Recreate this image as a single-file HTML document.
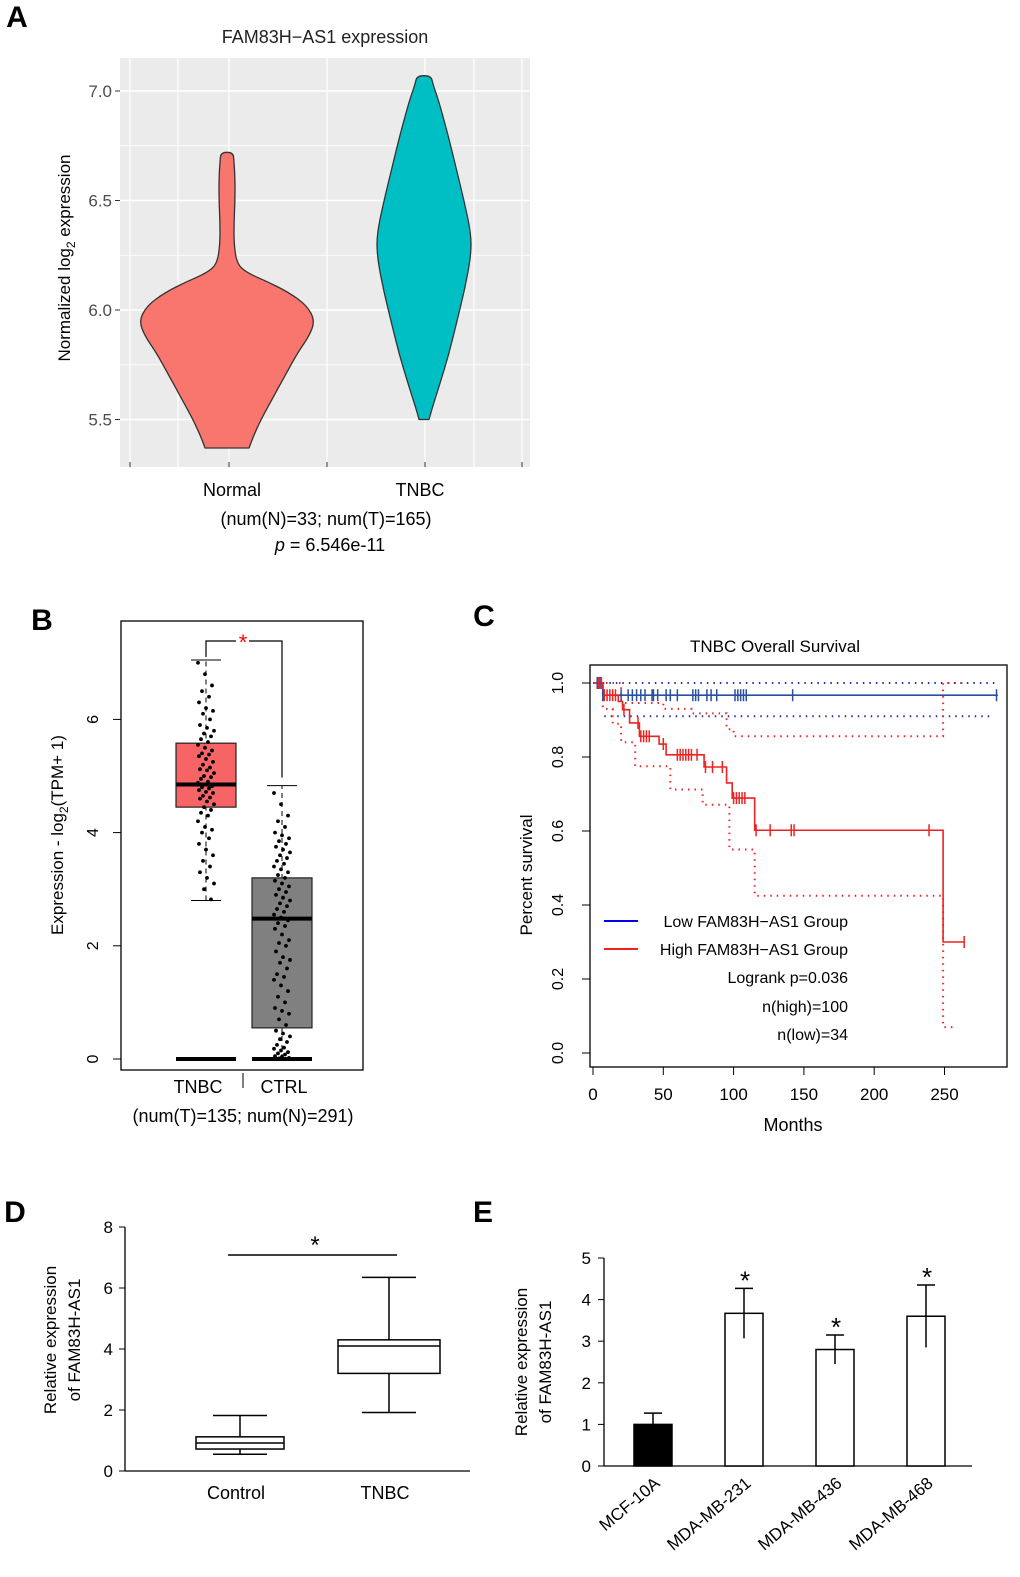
<!DOCTYPE html>
<html><head><meta charset="utf-8"><style>
body{margin:0;background:#fff}
svg{display:block;font-family:"Liberation Sans",Arial,sans-serif}
</style></head><body>
<svg id="fig" width="1020" height="1577" viewBox="0 0 1020 1577">
<g id="pA"></g>
<g id="pB"></g>
<g id="pC"></g>
<g id="pD"></g>
<g id="pE"></g>
</svg>
<script>
// ---- Panel A data ----
const violinLevels = ["Normal","TNBC"];
const normalVals = [5.37,5.42,5.5,5.6,5.7,5.8,5.88,5.95,6.02,6.08,6.13,6.17,6.21,6.3,6.4,6.5,6.6,6.68,6.72];
const normalWidth = [22,26,34,46,58,70,82,88,80,62,40,20,10,7,7,8,8,7,6];
const tnbcVals = [5.5,5.55,5.65,5.8,5.95,6.1,6.25,6.35,6.5,6.65,6.8,6.95,7.03,7.07];
const tnbcWidth = [5,8,15,25,33,41,47,47,40,32,24,15,9,7];
const aTicks = [5.5,6.0,6.5,7.0];
// ---- Panel B data ----
const bCats = ["TNBC","CTRL"];
const bStats = [[2.8,4.45,4.85,5.58,7.05],[0,0.55,2.48,3.2,4.83]];
const bTnbcPts = [7.0,6.8,6.6,6.5,6.4,6.3,6.2,6.15,6.1,6.0,5.9,5.85,5.8,5.75,5.7,5.65,5.6,5.55,5.5,5.45,5.4,5.38,5.35,5.3,5.25,5.2,5.15,5.12,5.1,5.05,5.0,4.98,4.95,4.9,4.88,4.85,4.82,4.8,4.78,4.75,4.72,4.7,4.65,4.62,4.6,4.55,4.5,4.45,4.4,4.35,4.3,4.2,4.1,4.05,4.0,3.9,3.8,3.7,3.6,3.5,3.4,3.3,3.2,3.1,3.0,2.82];
const bCtrlPts = [4.7,4.5,4.3,4.2,4.1,4.0,3.95,3.9,3.85,3.8,3.75,3.7,3.65,3.6,3.55,3.5,3.45,3.4,3.35,3.3,3.25,3.2,3.15,3.1,3.05,3.0,2.95,2.9,2.85,2.8,2.75,2.7,2.65,2.6,2.55,2.5,2.45,2.4,2.35,2.3,2.2,2.1,2.05,2.0,1.9,1.8,1.75,1.7,1.6,1.5,1.45,1.4,1.3,1.2,1.1,1.0,0.9,0.85,0.8,0.7,0.6,0.5,0.45,0.4,0.35,0.3,0.25,0.2,0.18,0.15,0.12,0.1,0.08,0.05,0.04,0.02,0.01];
const bTicks = [0,2,4,6];
// ---- Panel C data ----
const highSteps = [[0,1],[7,0.967],[18,0.95],[21,0.928],[26,0.892],[33,0.856],[47,0.835],[52,0.806],[79,0.773],[95,0.73],[99,0.689],[115,0.602],[249,0.30]];
const highEnd = 264;
const highUpper = [[0,1],[20,0.946],[50,0.93],[70,0.918],[95,0.875],[100,0.856],[249,1.0]];
const highUpperEnd = 264;
const highLower = [[0,1],[7,0.93],[14,0.89],[20,0.84],[30,0.775],[55,0.712],[78,0.671],[97,0.55],[115,0.425],[249,0.07]];
const highLowerEnd = 257;
const highCens = [4,6,8,10,12,14,16,22,32,34,36,38,40,50,60,62,64,66,68,70,74,80,85,92,100,102,104,106,108,116,126,141,143,239,264];
const lowSteps = [[0,1],[7,0.967]];
const lowEnd = 288;
const lowUpper = [[7,1.0]]; const lowUpperEnd = 288;
const lowLower = [[8,0.91]]; const lowLowerEnd = 285;
const lowCens = [3,5,7,20,25,28,31,34,37,42,43,46,52,55,60,71,73,75,81,84,88,101,103,105,107,109,142,287];
const cXTicks = [0,50,100,150,200,250];
const cYTicks = [0,0.2,0.4,0.6,0.8,1.0];
// ---- Panel D data ----
const dCats = ["Control","TNBC"];
const dStats = [[0.55,0.72,0.92,1.12,1.82],[1.92,3.2,4.1,4.3,6.35]];
const dTicks = [0,2,4,6,8];
// ---- Panel E data ----
const eCats = ["MCF-10A","MDA-MB-231","MDA-MB-436","MDA-MB-468"];
const eVals = [1.0,3.67,2.8,3.6];
const eErr = [0.27,0.6,0.35,0.75];
const eSig = [false,true,true,true];
const eTicks = [0,1,2,3,4,5];

const NS="http://www.w3.org/2000/svg";
function mk(parent,tag,attrs,name,text){
  const e=document.createElementNS(NS,tag);
  for(const k in attrs) e.setAttribute(k,attrs[k]);
  
  
  if(text!==undefined) e.textContent=text;
  parent.appendChild(e); return e;
}
function txt(p,x,y,s,size,name,extra){
  const a=Object.assign({x:x,y:y,'font-size':size,'text-anchor':'middle',fill:'#000'},extra||{});
  return mk(p,'text',a,name,s);
}
function smooth(pts){
  let d='M'+pts[0][0].toFixed(1)+','+pts[0][1].toFixed(1);
  for(let i=1;i<pts.length-1;i++){
    const mx=(pts[i][0]+pts[i+1][0])/2, my=(pts[i][1]+pts[i+1][1])/2;
    d+=` Q${pts[i][0].toFixed(1)},${pts[i][1].toFixed(1)} ${mx.toFixed(1)},${my.toFixed(1)}`;
  }
  const l=pts[pts.length-1]; d+=` L${l[0].toFixed(1)},${l[1].toFixed(1)}`;
  return d;
}

// ===== Panel A =====
(function(){
  const g=document.getElementById('pA');
  const y=v=>310-(v-6.0)*219;
  txt(g,17,27,'A',30,'panel-label-a',{'font-weight':'bold'});
  txt(g,325,43,'FAM83H\u2212AS1 expression',18,'chart-a-title',{fill:'#222'});
  mk(g,'rect',{x:120,y:58,width:410,height:409,fill:'#EBEBEB'},'plot-background');
  [5.25,5.75,6.25,6.75].forEach(v=>mk(g,'line',{x1:120,x2:530,y1:y(v),y2:y(v),stroke:'#fff','stroke-width':0.8},'minor-grid'));
  aTicks.forEach(v=>{
    mk(g,'line',{x1:120,x2:530,y1:y(v),y2:y(v),stroke:'#fff','stroke-width':1.5},'major-grid');
    mk(g,'line',{x1:115,x2:120,y1:y(v),y2:y(v),stroke:'#333'},'y-tick');
    txt(g,112,y(v)+6,v.toFixed(1),17,'y-tick-label',{'text-anchor':'end',fill:'#4d4d4d'});
  });
  [130,178,229,327,425,474,522].forEach(x=>mk(g,'line',{x1:x,x2:x,y1:58,y2:467,stroke:'#fff','stroke-width':1.2},'x-grid'));
  [130,229,327,425,522].forEach(x=>mk(g,'line',{x1:x,x2:x,y1:462,y2:467,stroke:'#333'},'x-tick'));
  function violin(vals,w,cx,fill,name){
    let r=vals.map((v,i)=>[cx+w[i],y(v)]);
    let l=vals.map((v,i)=>[cx-w[i],y(v)]).reverse();
    let pts=r.concat(l);
    mk(g,'path',{d:smooth(pts)+'Z',fill:fill,stroke:'#333','stroke-width':1.3,'stroke-linejoin':'round'},name);
  }
  violin(normalVals,normalWidth,227,'#F8766D','violin-normal');
  violin(tnbcVals,tnbcWidth,424,'#00BFC4','violin-tnbc');
  txt(g,232,496,violinLevels[0],18,'x-label-normal');
  txt(g,420,496,violinLevels[1],18,'x-label-tnbc');
  txt(g,326,525,'(num(N)=33; num(T)=165)',18,'sample-sizes');
  const t=txt(g,330,551,'',18,'p-value');
  const ti=document.createElementNS(NS,'tspan'); ti.setAttribute('font-style','italic'); ti.textContent='p';
  t.appendChild(ti); t.appendChild(document.createTextNode(' = 6.546e-11'));
  const yl=txt(g,70,258,'',17,'y-axis-title',{transform:'rotate(-90 70 258)'});
  yl.innerHTML='Normalized log<tspan font-size="12" dy="5">2</tspan><tspan dy="-5"> expression</tspan>';
})();

// ===== Panel B =====
(function(){
  const g=document.getElementById('pB');
  const y=v=>1059-v*56.6;
  txt(g,42,630,'B',30,'panel-label-b',{'font-weight':'bold'});
  mk(g,'rect',{x:121,y:621,width:242,height:449,fill:'none',stroke:'#000','stroke-width':1.3},'plot-frame');
  bTicks.forEach(v=>{
    mk(g,'line',{x1:113,x2:121,y1:y(v),y2:y(v),stroke:'#000'},'y-tick');
    txt(g,98,y(v),String(v),16,'y-tick-label',{transform:`rotate(-90 98 ${y(v)})`});
  });
  const cxs=[206,282], fills=['#F66466','#808080'];
  bStats.forEach((s,i)=>{
    const cx=cxs[i];
    mk(g,'line',{x1:cx,x2:cx,y1:y(s[0]),y2:y(s[4]),stroke:'#000','stroke-dasharray':'5,4'},'whisker');
    mk(g,'line',{x1:cx-15,x2:cx+15,y1:y(s[4]),y2:y(s[4]),stroke:'#000'},'whisker-cap-top');
    if(s[0]>0) mk(g,'line',{x1:cx-15,x2:cx+15,y1:y(s[0]),y2:y(s[0]),stroke:'#000'},'whisker-cap-bottom');
    mk(g,'rect',{x:cx-30,y:y(s[3]),width:60,height:y(s[1])-y(s[3]),fill:fills[i],stroke:'#222','stroke-width':1.2},'box-'+bCats[i].toLowerCase());
    mk(g,'line',{x1:cx-30,x2:cx+30,y1:y(s[2]),y2:y(s[2]),stroke:'#000','stroke-width':4},'median');
    mk(g,'line',{x1:cx-30,x2:cx+30,y1:y(0),y2:y(0),stroke:'#000','stroke-width':4},'zero-line');
  });
  [bTnbcPts,bCtrlPts].forEach((arr,i)=>arr.forEach((v,j)=>{
    const dx=((j*7)%17)-8;
    mk(g,'circle',{cx:cxs[i]+dx,cy:y(v),r:1.9,fill:'#000'},'point');
  }));
  mk(g,'path',{d:`M206,657 V641 H236 M249,641 H282 V${y(4.83)-8}`,fill:'none',stroke:'#000','stroke-width':1.2},'significance-bracket');
  txt(g,243,650,'*',22,'significance-star',{fill:'#f00'});
  txt(g,198,1093,bCats[0],18,'x-label-tnbc');
  txt(g,284,1093,bCats[1],18,'x-label-ctrl');
  mk(g,'line',{x1:243,x2:243,y1:1073,y2:1088,stroke:'#000'},'x-separator');
  txt(g,243,1122,'(num(T)=135; num(N)=291)',18,'sample-sizes');
  const yl=txt(g,63,835,'',17,'y-axis-title',{transform:'rotate(-90 63 835)'});
  yl.innerHTML='Expression - log<tspan font-size="12" dy="5">2</tspan><tspan dy="-5">(TPM+ 1)</tspan>';
})();

// ===== Panel C =====
(function(){
  const g=document.getElementById('pC');
  const x=m=>593+m*1.406, y=v=>1053-v*370;
  txt(g,484,626,'C',30,'panel-label-c',{'font-weight':'bold'});
  txt(g,775,652,'TNBC Overall Survival',17,'chart-c-title');
  mk(g,'rect',{x:590,y:665,width:417,height:402,fill:'none',stroke:'#000','stroke-width':1.3},'plot-frame');
  cYTicks.forEach(v=>{
    mk(g,'line',{x1:582,x2:590,y1:y(v),y2:y(v),stroke:'#000'},'y-tick');
    txt(g,563,y(v),v.toFixed(1),16,'y-tick-label',{transform:`rotate(-90 563 ${y(v)})`});
  });
  cXTicks.forEach(m=>{
    mk(g,'line',{x1:x(m),x2:x(m),y1:1067,y2:1075,stroke:'#000'},'x-tick');
    txt(g,x(m),1100,String(m),17,'x-tick-label');
  });
  txt(g,793,1131,'Months',18,'x-axis-title');
  txt(g,532,875,'Percent survival',17,'y-axis-title',{transform:'rotate(-90 532 875)'});
  function step(st,end,color,dash,name,w){
    let d=`M${x(st[0][0])},${y(st[0][1])}`;
    for(let i=1;i<st.length;i++) d+=` H${x(st[i][0])} V${y(st[i][1])}`;
    d+=` H${x(end)}`;
    const a={d:d,fill:'none',stroke:color,'stroke-width':w||1.6};
    if(dash) a['stroke-dasharray']='1.5,5';
    mk(g,'path',a,name);
  }
  function valAt(st,m){let v=st[0][1];st.forEach(s=>{if(s[0]<=m)v=s[1];});return v;}
  step(lowUpper,lowUpperEnd,'#2233aa',true,'low-ci-upper',2);
  step(lowLower,lowLowerEnd,'#2233aa',true,'low-ci-lower',2);
  step(highUpper,highUpperEnd,'#ee2222',true,'high-ci-upper',2);
  step(highLower,highLowerEnd,'#ee2222',true,'high-ci-lower',2);
  step(lowSteps,lowEnd,'#2a4ea0',false,'low-group-curve');
  step(highSteps,highEnd,'#ee2222',false,'high-group-curve');
  lowCens.forEach(m=>{const yy=y(valAt(lowSteps,m));mk(g,'line',{x1:x(m),x2:x(m),y1:yy-6,y2:yy+6,stroke:'#2a4ea0','stroke-width':1.5},'censor-low');});
  highCens.forEach(m=>{const yy=y(valAt(highSteps,m));mk(g,'line',{x1:x(m),x2:x(m),y1:yy-6,y2:yy+6,stroke:'#ee2222','stroke-width':1.5},'censor-high');});
  mk(g,'line',{x1:604,x2:638,y1:921,y2:921,stroke:'#0000ee','stroke-width':2},'legend-swatch-low');
  mk(g,'line',{x1:604,x2:638,y1:949,y2:949,stroke:'#ee2222','stroke-width':2},'legend-swatch-high');
  const L=[['Low FAM83H\u2212AS1 Group',927,'legend-entry-low'],['High FAM83H\u2212AS1 Group',955,'legend-entry-high'],['Logrank p=0.036',983,'logrank-p'],['n(high)=100',1012,'n-high'],['n(low)=34',1040,'n-low']];
  L.forEach(l=>txt(g,848,l[1],l[0],16,l[2],{'text-anchor':'end'}));
})();

// ===== Panel D =====
(function(){
  const g=document.getElementById('pD');
  const y=v=>1471-v*30.5;
  txt(g,15,1222,'D',30,'panel-label-d',{'font-weight':'bold'});
  mk(g,'line',{x1:125,x2:125,y1:y(8),y2:y(0),stroke:'#000','stroke-width':1.3},'y-axis');
  mk(g,'line',{x1:125,x2:470,y1:y(0),y2:y(0),stroke:'#000','stroke-width':1.3},'x-axis');
  dTicks.forEach(v=>{
    mk(g,'line',{x1:119,x2:125,y1:y(v),y2:y(v),stroke:'#000'},'y-tick');
    txt(g,113,y(v)+6,String(v),17,'y-tick-label',{'text-anchor':'end'});
  });
  const cxs=[240,389], hw=[44,51];
  dStats.forEach((s,i)=>{
    const cx=cxs[i];
    mk(g,'line',{x1:cx,x2:cx,y1:y(s[0]),y2:y(s[4]),stroke:'#000','stroke-width':1.5},'whisker');
    mk(g,'line',{x1:cx-27,x2:cx+27,y1:y(s[0]),y2:y(s[0]),stroke:'#000','stroke-width':1.5},'whisker-cap');
    mk(g,'line',{x1:cx-27,x2:cx+27,y1:y(s[4]),y2:y(s[4]),stroke:'#000','stroke-width':1.5},'whisker-cap');
    mk(g,'rect',{x:cx-hw[i],y:y(s[3]),width:hw[i]*2,height:y(s[1])-y(s[3]),fill:'#fff',stroke:'#000','stroke-width':1.5},'box-'+dCats[i].toLowerCase());
    mk(g,'line',{x1:cx-hw[i],x2:cx+hw[i],y1:y(s[2]),y2:y(s[2]),stroke:'#000','stroke-width':1.5},'median');
    txt(g,cx-4,1499,dCats[i],18,'x-label-'+dCats[i].toLowerCase());
  });
  mk(g,'line',{x1:228,x2:397,y1:1255,y2:1255,stroke:'#000','stroke-width':1.5},'significance-line');
  txt(g,315,1253,'*',24,'significance-star');
  txt(g,56,1340,'Relative expression',17,'y-axis-title-1',{transform:'rotate(-90 56 1340)'});
  txt(g,80,1340,'of  FAM83H-AS1',17,'y-axis-title-2',{transform:'rotate(-90 80 1340)'});
})();

// ===== Panel E =====
(function(){
  const g=document.getElementById('pE');
  const y=v=>1466-v*41.6;
  txt(g,483,1222,'E',30,'panel-label-e',{'font-weight':'bold'});
  mk(g,'line',{x1:604,x2:604,y1:y(5),y2:y(0),stroke:'#000','stroke-width':1.3},'y-axis');
  mk(g,'line',{x1:604,x2:972,y1:y(0),y2:y(0),stroke:'#000','stroke-width':1.3},'x-axis');
  eTicks.forEach(v=>{
    mk(g,'line',{x1:598,x2:604,y1:y(v),y2:y(v),stroke:'#000'},'y-tick');
    txt(g,591,y(v)+6,String(v),17,'y-tick-label',{'text-anchor':'end'});
  });
  const step=91, x0=653, bw=38;
  eCats.forEach((c,i)=>{
    const cx=x0+i*step;
    mk(g,'rect',{x:cx-bw/2,y:y(eVals[i]),width:bw,height:y(0)-y(eVals[i]),fill:i===0?'#000':'#fff',stroke:'#000','stroke-width':1.5},'bar-'+c.toLowerCase());
    const t=y(eVals[i]+eErr[i]), b=y(eVals[i]-eErr[i]);
    mk(g,'line',{x1:cx,x2:cx,y1:t,y2:b,stroke:'#000','stroke-width':1.5},'error-bar');
    mk(g,'line',{x1:cx-9,x2:cx+9,y1:t,y2:t,stroke:'#000','stroke-width':1.5},'error-cap');
    if(eSig[i]) txt(g,cx+1,t+1,'*',26,'significance-star');
    txt(g,cx+8,1485,c,17,'x-label',{'text-anchor':'end',transform:`rotate(-40 ${cx+8} 1485)`});
  });
  txt(g,527,1362,'Relative expression',17,'y-axis-title-1',{transform:'rotate(-90 527 1362)'});
  txt(g,551,1362,'of  FAM83H-AS1',17,'y-axis-title-2',{transform:'rotate(-90 551 1362)'});
})();
</script>
</body></html>
